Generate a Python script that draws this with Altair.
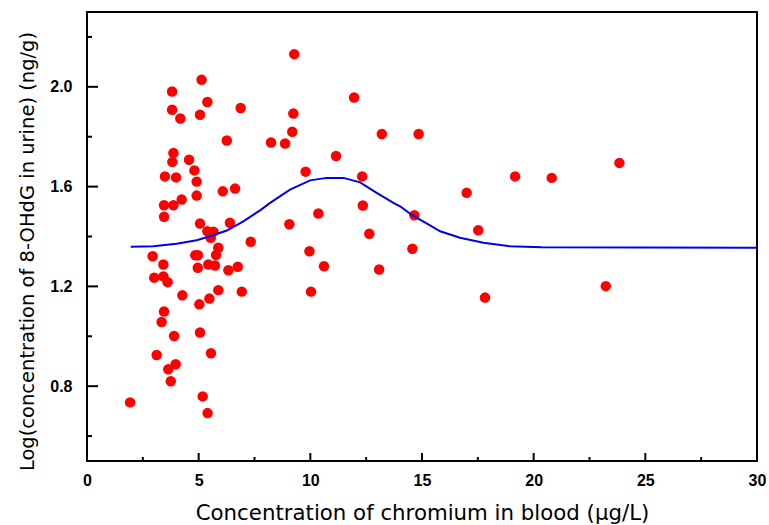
import altair as alt
import pandas as pd

# Scatter data
cr_blood = [5.13, 3.81, 5.39, 3.81, 5.06, 4.18, 6.88, 6.26, 3.87, 3.82,
            4.57, 4.81, 3.49, 3.99, 4.91, 6.08, 6.63, 4.91, 4.24, 3.45,
            3.87, 3.45, 5.06, 6.40, 5.39, 5.66, 5.54, 7.33, 5.88, 2.94,
            4.85, 4.97, 5.78, 3.42, 4.96, 5.43, 5.73, 6.33, 6.75, 3.01,
            3.42, 3.61, 5.88, 6.93, 4.27, 5.48, 5.03, 3.45, 3.34, 5.06,
            3.90, 5.55, 3.12, 3.97, 3.64, 3.75, 5.18, 5.40, 1.93,
            9.28, 11.96, 9.24, 9.19, 8.24, 8.87, 13.20, 14.85, 11.15, 9.79,
            12.32, 17.00, 12.35, 10.36, 9.06, 14.66, 17.52, 12.64, 9.96, 14.57,
            10.61, 13.08, 10.03, 17.82, 19.17, 20.81, 23.84, 23.23]
log_ohdg = [2.028, 1.981, 1.939, 1.908, 1.888, 1.873, 1.915, 1.785, 1.735, 1.699,
            1.708, 1.665, 1.641, 1.637, 1.620, 1.581, 1.592, 1.564, 1.548, 1.525,
            1.525, 1.479, 1.452, 1.455, 1.421, 1.419, 1.395, 1.379, 1.355, 1.321,
            1.325, 1.325, 1.326, 1.288, 1.275, 1.288, 1.284, 1.265, 1.279, 1.235,
            1.240, 1.217, 1.185, 1.179, 1.164, 1.151, 1.128, 1.099, 1.057, 1.015,
            1.001, 0.932, 0.925, 0.888, 0.868, 0.820, 0.759, 0.692, 0.735,
            2.131, 1.957, 1.893, 1.820, 1.777, 1.773, 1.811, 1.811, 1.723, 1.660,
            1.641, 1.575, 1.524, 1.492, 1.449, 1.485, 1.425, 1.411, 1.341, 1.351,
            1.281, 1.268, 1.179, 1.155, 1.641, 1.635, 1.695, 1.201]

# Fitted curve
fit_x = [1.96, 2.97, 4.01, 4.91, 5.51, 6.26, 7.00, 7.75, 8.20, 9.09, 9.99,
         10.73, 11.48, 12.23, 12.97, 13.72, 14.02, 14.46, 14.91, 15.36, 15.81,
         16.70, 17.75, 18.94, 20.36, 24.76, 30.0]
fit_y = [1.359, 1.361, 1.371, 1.385, 1.401, 1.424, 1.461, 1.505, 1.535, 1.588, 1.625,
         1.635, 1.635, 1.617, 1.575, 1.535, 1.521, 1.492, 1.468, 1.445, 1.421,
         1.395, 1.375, 1.361, 1.357, 1.356, 1.355]

x_major = [0, 5, 10, 15, 20, 25, 30]
x_minor = [2.5, 7.5, 12.5, 17.5, 22.5, 27.5]
y_major = [0.8, 1.2, 1.6, 2.0]
y_minor = [0.6, 1.0, 1.4, 1.8, 2.2]

pts = pd.DataFrame({"cr": cr_blood, "lg": log_ohdg})
fit = pd.DataFrame({"cr": fit_x, "lg": fit_y})

xscale = alt.Scale(domain=[0, 30], nice=False, zero=False)
yscale = alt.Scale(domain=[0.5, 2.3], nice=False, zero=False)

x_axis = alt.Axis(values=x_major, format="d", title="Concentration of chromium in blood (μg/L)",
                  ticks=False, tickSize=0, domain=False, grid=False, labelFlush=False,
                  labelFont="Liberation Sans", labelFontSize=16, labelFontWeight="bold",
                  labelColor="black", labelPadding=11,
                  titleFont="DejaVu Sans", titleFontSize=21.3, titleFontWeight="normal",
                  titleColor="black", titleY=58, titleBaseline="alphabetic")
y_axis = alt.Axis(values=y_major, format=".1f", title="Log(concentration of 8-OHdG in urine) (ng/g)",
                  ticks=False, tickSize=0, domain=False, grid=False, labelFlush=False,
                  labelFont="Liberation Sans", labelFontSize=16, labelFontWeight="bold",
                  labelColor="black", labelPadding=15,
                  titleFont="DejaVu Sans", titleFontSize=19.5, titleFontWeight="normal",
                  titleColor="black", titleX=-54, titleY=239, titleAlign="center",
                  titleBaseline="alphabetic")

points = alt.Chart(pts).mark_circle(size=110, color="#ff0000", opacity=1).encode(
    x=alt.X("cr:Q", scale=xscale, axis=x_axis),
    y=alt.Y("lg:Q", scale=yscale, axis=y_axis),
)
curve = alt.Chart(fit).mark_line(color="#0000ee", strokeWidth=2).encode(
    x=alt.X("cr:Q", scale=xscale, axis=x_axis),
    y=alt.Y("lg:Q", scale=yscale, axis=y_axis),
)

ytmaj = alt.Chart(pd.DataFrame({"lg": y_major})).mark_rule(color="black", strokeWidth=2).encode(
    y=alt.Y("lg:Q", scale=yscale, axis=y_axis), x=alt.value(0), x2=alt.value(11))
ytmin = alt.Chart(pd.DataFrame({"lg": y_minor})).mark_rule(color="black", strokeWidth=2).encode(
    y=alt.Y("lg:Q", scale=yscale, axis=y_axis), x=alt.value(0), x2=alt.value(5))
xtmaj = alt.Chart(pd.DataFrame({"cr": x_major})).mark_rule(color="black", strokeWidth=2).encode(
    x=alt.X("cr:Q", scale=xscale, axis=x_axis), y=alt.value(449), y2=alt.value(441))
xtmin = alt.Chart(pd.DataFrame({"cr": x_minor})).mark_rule(color="black", strokeWidth=2).encode(
    x=alt.X("cr:Q", scale=xscale, axis=x_axis), y=alt.value(449), y2=alt.value(445))

chart = alt.layer(ytmaj, ytmin, xtmaj, xtmin, points, curve).properties(
    width=670, height=449,
    autosize=alt.AutoSizeParams(type="none"),
    padding={"left": 87, "top": 12, "right": 12, "bottom": 64},
    background="white",
).configure_view(stroke="black", strokeWidth=2)

chart.save("out.html", embed_options={"renderer": "svg", "actions": False})
